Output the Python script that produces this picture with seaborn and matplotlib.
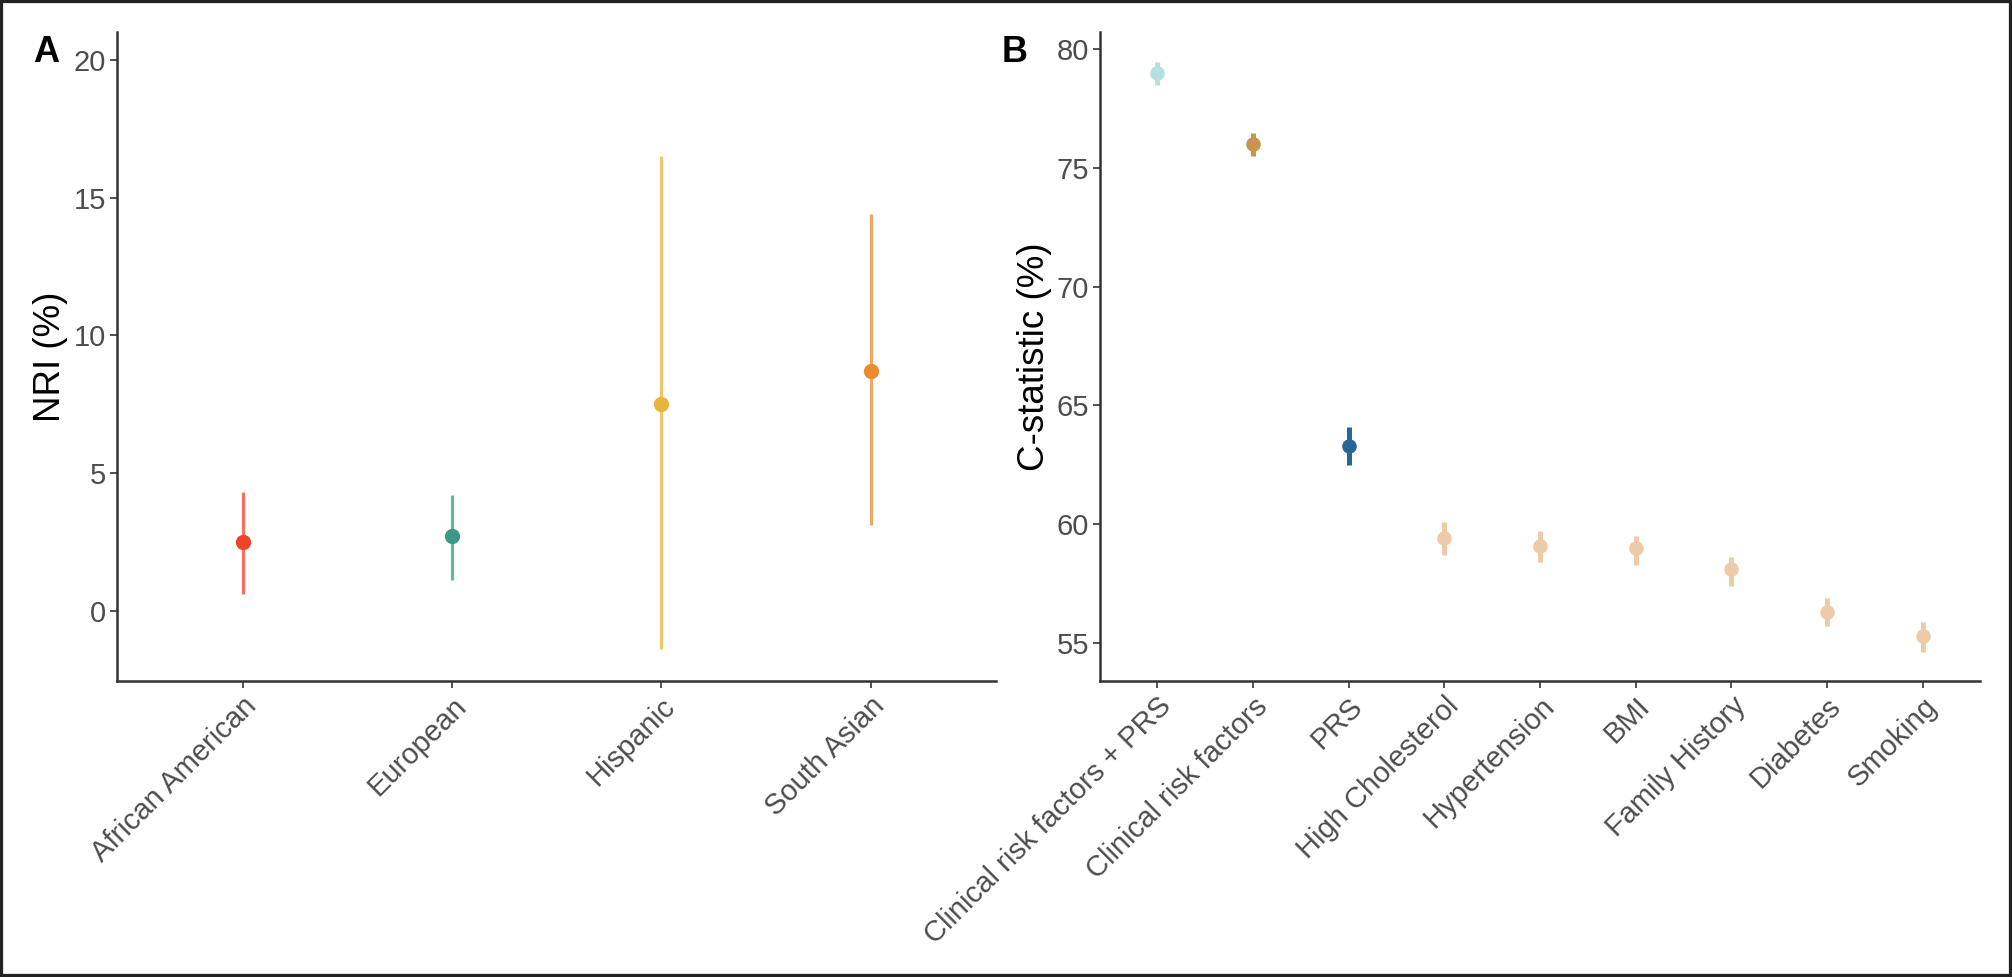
import matplotlib
matplotlib.use("Agg")
import matplotlib.pyplot as plt
import seaborn as sns
import pandas as pd
from matplotlib.patches import Rectangle

# ---- data ----
groups_a = ["African American", "European", "Hispanic", "South Asian"]
nri = [2.5, 2.7, 7.5, 8.7]
nri_lo = [0.6, 1.1, -1.4, 3.1]
nri_hi = [4.3, 4.2, 16.5, 14.4]
colors_a = ["#EE4427", "#3A9A85", "#E9B43B", "#EC8A30"]

models_b = ["Clinical risk factors + PRS", "Clinical risk factors", "PRS",
            "High Cholesterol", "Hypertension", "BMI", "Family History",
            "Diabetes", "Smoking"]
cstat = [79.0, 76.0, 63.3, 59.4, 59.1, 59.0, 58.1, 56.3, 55.3]
cstat_lo = [78.5, 75.5, 62.5, 58.7, 58.4, 58.3, 57.4, 55.7, 54.6]
cstat_hi = [79.45, 76.45, 64.1, 60.1, 59.7, 59.5, 58.6, 56.9, 55.9]
colors_b = ["#B5DFE0", "#C9944E", "#2A6599", "#EDCBA8", "#EDCBA8",
            "#EDCBA8", "#EDCBA8", "#EDCBA8", "#EDCBA8"]

yticks_a = [0, 5, 10, 15, 20]
yticks_b = [55, 60, 65, 70, 75, 80]

sns.set_theme(style="white")
plt.rcParams["font.family"] = ["Liberation Sans", "DejaVu Sans"]

fig = plt.figure(figsize=(20.12, 9.77), dpi=100)
ax_a = fig.add_axes([0.0582, 0.303, 0.4369, 0.664])
ax_b = fig.add_axes([0.5467, 0.303, 0.4374, 0.664])

df_a = pd.DataFrame({"group": groups_a, "nri": nri, "lo": nri_lo, "hi": nri_hi})
df_b = pd.DataFrame({"model": models_b, "c": cstat, "lo": cstat_lo, "hi": cstat_hi})

# panel A
for i, row in df_a.iterrows():
    ax_a.vlines(i, row["lo"], row["hi"], color=colors_a[i], alpha=0.75, linewidth=2.3, zorder=1)
sns.stripplot(data=df_a, x="group", y="nri", hue="group", palette=colors_a,
              jitter=False, size=11, linewidth=0, legend=False, ax=ax_a, zorder=3)
ax_a.set_xlim(-0.6, 3.6)
ax_a.set_ylim(-2.55, 21.0)
ax_a.set_yticks(yticks_a)
ax_a.set_ylabel("NRI (%)", fontsize=26.5, color="black")
ax_a.yaxis.set_label_coords(-0.0557, 0.5)
ax_a.set_xlabel("")

# panel B
for i, row in df_b.iterrows():
    ax_b.vlines(i, row["lo"], row["hi"], color=colors_b[i], linewidth=3.6, zorder=1)
sns.stripplot(data=df_b, x="model", y="c", hue="model", palette=colors_b,
              jitter=False, size=10.5, linewidth=0, legend=False, ax=ax_b, zorder=3)
ax_b.set_xlim(-0.6, 8.6)
ax_b.set_ylim(53.4, 80.7)
ax_b.set_yticks(yticks_b)
ax_b.set_ylabel("C-statistic (%)", fontsize=26.5, color="black")
ax_b.yaxis.set_label_coords(-0.0545, 0.5)
ax_b.set_xlabel("")

for ax in (ax_a, ax_b):
    sns.despine(ax=ax)
    for s in ("left", "bottom"):
        ax.spines[s].set_color("#333333")
        ax.spines[s].set_linewidth(1.8)
    ax.tick_params(axis="both", which="both", direction="out", length=5, width=1.2,
                   color="#333333", labelcolor="#4D4D4D", labelsize=21,
                   left=True, bottom=True, pad=3)
    plt.setp(ax.get_xticklabels(), rotation=45, ha="right", rotation_mode="anchor")

fig.text(33 / 2012, 1 - 62 / 977, "A", fontsize=26, fontweight="bold", color="black")
fig.text(1002 / 2012, 1 - 62 / 977, "B", fontsize=26, fontweight="bold", color="black")

fig.patches.append(Rectangle((0, 0), 1, 1, transform=fig.transFigure, fill=False,
                             edgecolor="#222222", linewidth=4.5, zorder=10))

fig.savefig("out.png", dpi=100)
